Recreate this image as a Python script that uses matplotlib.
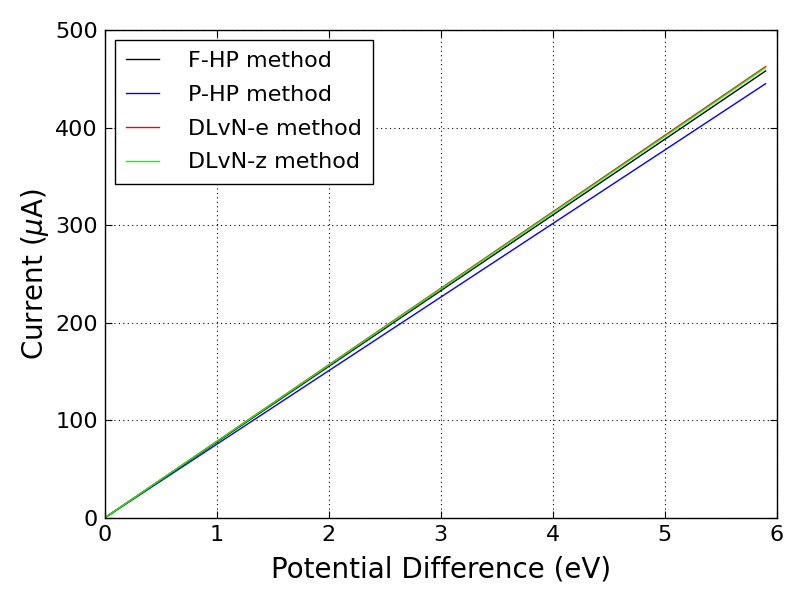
import numpy as np
import matplotlib
matplotlib.use("Agg")
import matplotlib.pyplot as plt

# potential difference (eV) and currents (uA)
voltage = [0.0, 1.0, 2.0, 3.0, 4.0, 5.0, 5.9]
fhp = [0.0, 77.6, 155.2, 232.8, 310.4, 388.0, 458.0]
php = [0.0, 75.4, 150.8, 226.2, 301.6, 377.0, 445.0]
dlvn_e = [0.0, 78.4, 156.8, 235.2, 313.6, 392.0, 462.5]
dlvn_z = [0.0, 78.2, 156.4, 234.6, 312.8, 391.0, 461.5]

plt.rcParams['font.family'] = ['DejaVu Sans']
plt.rcParams['mathtext.fontset'] = 'dejavusans'

fig = plt.figure(figsize=(8, 6), dpi=100, facecolor='white')
ax = fig.add_axes([0.131, 0.137, 0.84, 0.813])

ax.plot(voltage, fhp, color='black', lw=1.0, label='F-HP method')
ax.plot(voltage, php, color='blue', lw=1.0, label='P-HP method')
ax.plot(voltage, dlvn_e, color='red', lw=1.0, label='DLvN-e method')
ax.plot(voltage, dlvn_z, color='lime', lw=1.0, label='DLvN-z method')

ax.set_xlim(0, 6)
ax.set_ylim(0, 500)
ax.set_xticks(range(0, 7))
ax.set_yticks(range(0, 501, 100))
ax.tick_params(direction='in', top=True, right=True, labelsize=16, length=5, pad=5)
ax.grid(True, color='black', linestyle=(0, (1, 3)), linewidth=0.8)
for s in ax.spines.values():
    s.set_linewidth(1.0)

ax.set_xlabel('Potential Difference (eV)', fontsize=20, labelpad=8)
ax.set_ylabel(r'Current ($\mu$A)', fontsize=20, labelpad=3)

leg = ax.legend(loc='upper left', fontsize=16, fancybox=False, framealpha=1,
                edgecolor='black', handlelength=1.5, handletextpad=1.3,
                borderpad=0.5, labelspacing=0.62, borderaxespad=0.45)
leg.get_frame().set_linewidth(1.0)

fig.savefig('out.png', dpi=100, facecolor='white')
